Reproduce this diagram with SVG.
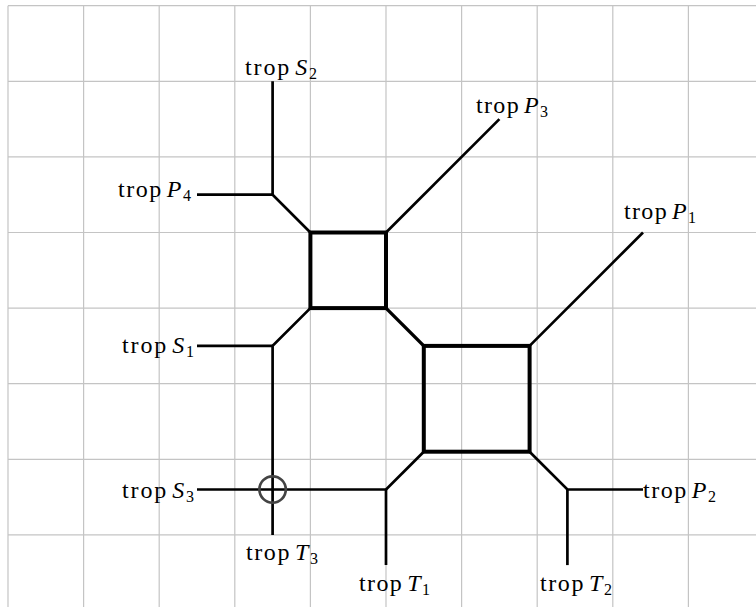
<svg xmlns="http://www.w3.org/2000/svg" width="756" height="607" viewBox="0 0 756 607">
<style>
.grid line{stroke:#c4c4c4;stroke-width:1.2}
.e{stroke:#000;stroke-width:2.7;fill:none;stroke-linecap:butt}
.sq{stroke:#000;stroke-width:4;fill:none}
.lbl{font-family:"Liberation Serif","Times New Roman",serif;font-size:24px;fill:#000}
.it{font-style:italic}
.sub{font-size:16px}
</style>
<rect width="756" height="607" fill="#fff"/>
<g class="grid">
<line x1="8" y1="5.7" x2="8" y2="607"/>
<line x1="83.6" y1="5.7" x2="83.6" y2="607"/>
<line x1="159.2" y1="5.7" x2="159.2" y2="607"/>
<line x1="234.8" y1="5.7" x2="234.8" y2="607"/>
<line x1="310.4" y1="5.7" x2="310.4" y2="607"/>
<line x1="386" y1="5.7" x2="386" y2="607"/>
<line x1="461.6" y1="5.7" x2="461.6" y2="607"/>
<line x1="537.2" y1="5.7" x2="537.2" y2="607"/>
<line x1="612.8" y1="5.7" x2="612.8" y2="607"/>
<line x1="688.4" y1="5.7" x2="688.4" y2="607"/>
<line x1="8" y1="5.7" x2="756" y2="5.7"/>
<line x1="8" y1="81.3" x2="756" y2="81.3"/>
<line x1="8" y1="156.9" x2="756" y2="156.9"/>
<line x1="8" y1="232.5" x2="756" y2="232.5"/>
<line x1="8" y1="308.1" x2="756" y2="308.1"/>
<line x1="8" y1="383.7" x2="756" y2="383.7"/>
<line x1="8" y1="459.3" x2="756" y2="459.3"/>
<line x1="8" y1="534.9" x2="756" y2="534.9"/>
</g>
<g id="connectors">
<path class="e" d="M272.6 81.3 V194.7 L310.4 232.5"/>
<path class="e" d="M197 194.7 H272.6"/>
<path class="e" d="M386 232.5 L499.4 119.1"/>
<path class="e" d="M310.4 308.1 L272.6 345.9 V534.9"/>
<path class="e" d="M197 345.9 H272.6"/>
<path class="e" d="M197 489.5 H386 V565.1"/>
<path class="e" d="M386 489.5 L423.8 451.7"/>
<path class="e" style="stroke-width:3.4" d="M386 308.1 L423.8 345.9"/>
<path class="e" d="M529.6 345.9 L643 232.5"/>
<path class="e" d="M529.6 451.7 L567.4 489.5 H643"/>
<path class="e" d="M567.4 489.5 V565.1"/>
</g>
<g id="square-small"><rect class="sq" x="310.4" y="232.5" width="75.6" height="75.6"/></g>
<g id="square-big"><rect class="sq" x="423.8" y="345.9" width="105.8" height="105.8"/></g>
<g id="marker-circle"><circle cx="272.6" cy="489.5" r="13.2" fill="none" stroke="#444" stroke-width="2.7"/></g>
<g id="label-S2"><text class="lbl" x="245" y="75" textLength="72" lengthAdjust="spacing">trop<tspan class="it" dx="4">S</tspan><tspan class="sub" dy="4">2</tspan></text></g>
<g id="label-P4"><text class="lbl" x="118" y="197" textLength="73" lengthAdjust="spacing">trop<tspan class="it" dx="4">P</tspan><tspan class="sub" dy="4">4</tspan></text></g>
<g id="label-P3"><text class="lbl" x="476" y="113" textLength="72" lengthAdjust="spacing">trop<tspan class="it" dx="4">P</tspan><tspan class="sub" dy="4">3</tspan></text></g>
<g id="label-P1"><text class="lbl" x="624" y="219" textLength="72" lengthAdjust="spacing">trop<tspan class="it" dx="4">P</tspan><tspan class="sub" dy="4">1</tspan></text></g>
<g id="label-S1"><text class="lbl" x="122" y="353" textLength="72" lengthAdjust="spacing">trop<tspan class="it" dx="4">S</tspan><tspan class="sub" dy="4">1</tspan></text></g>
<g id="label-S3"><text class="lbl" x="122" y="498" textLength="72" lengthAdjust="spacing">trop<tspan class="it" dx="4">S</tspan><tspan class="sub" dy="4">3</tspan></text></g>
<g id="label-P2"><text class="lbl" x="643" y="498" textLength="73" lengthAdjust="spacing">trop<tspan class="it" dx="4">P</tspan><tspan class="sub" dy="4">2</tspan></text></g>
<g id="label-T3"><text class="lbl" x="246" y="560" textLength="72" lengthAdjust="spacing">trop<tspan class="it" dx="4">T</tspan><tspan class="sub" dy="4">3</tspan></text></g>
<g id="label-T1"><text class="lbl" x="359" y="591" textLength="71" lengthAdjust="spacing">trop<tspan class="it" dx="4">T</tspan><tspan class="sub" dy="4">1</tspan></text></g>
<g id="label-T2"><text class="lbl" x="540" y="591" textLength="72" lengthAdjust="spacing">trop<tspan class="it" dx="4">T</tspan><tspan class="sub" dy="4">2</tspan></text></g>
</svg>
